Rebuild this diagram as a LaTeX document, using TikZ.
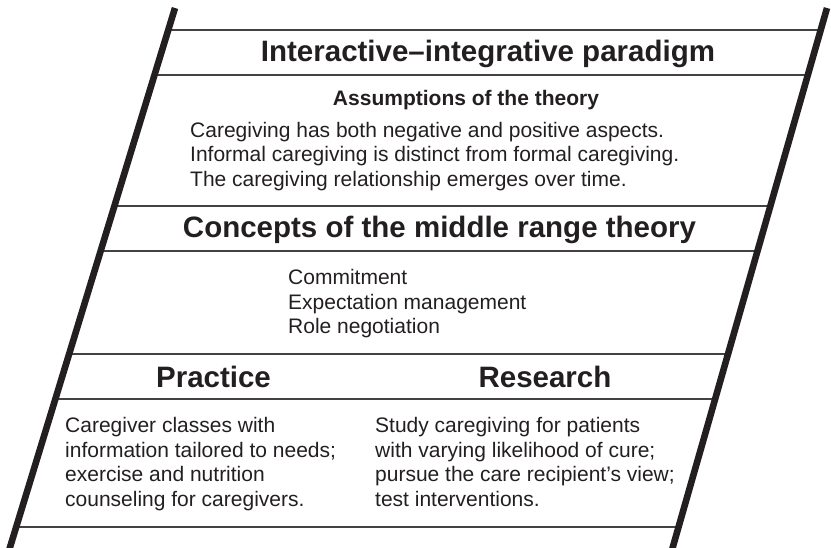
\documentclass[tikz,border=0pt]{standalone}
\usepackage{fontspec}
\setmainfont{Liberation Sans}
\definecolor{ink}{HTML}{231F20}
\begin{document}
\begin{tikzpicture}[x=1pt,y=-1pt,
  frame/.style={line width=6.6pt, draw=ink, line cap=butt},
  band/.style={line width=1.7pt, draw=ink!85},
  head/.style={font=\fontsize{29.5}{34}\selectfont\bfseries, text=ink, inner sep=0pt, anchor=base},
  subhead/.style={font=\fontsize{21}{24}\selectfont\bfseries, text=ink, inner sep=0pt, anchor=base},
  body/.style={font=\fontsize{21}{24.5}\selectfont, text=ink, inner sep=0pt, anchor=base west}]
\useasboundingbox (0,0) rectangle (831,547);
\clip (0,0) rectangle (831,547);
% frame edges
\coordinate (L1) at (175,8);
\coordinate (L2) at (6.1,560);
\coordinate (R1) at (827,8);
\coordinate (R2) at (669.1,560);
% horizontal band lines
\foreach \yy in {30,75,206,251,354,399,527}{
  \draw[band] (intersection of L1--L2 and 0,\yy--100,\yy) -- (intersection of R1--R2 and 0,\yy--100,\yy);
}
\draw[frame] (L1) -- (L2);
\draw[frame] (R1) -- (R2);
% texts
\node[head] (paradigm) at (488,61) {Interactive–integrative paradigm};
\node[subhead] (assump) at (466,105) {Assumptions of the theory};
\node[body] (a1) at (190,137) {Caregiving has both negative and positive aspects.};
\node[body] (a2) at (190,161.5) {Informal caregiving is distinct from formal caregiving.};
\node[body] (a3) at (190,186) {The caregiving relationship emerges over time.};
\node[head] (concepts) at (439.5,237) {Concepts of the middle range theory};
\node[body] (c1) at (288,284.5) {Commitment};
\node[body] (c2) at (288,309) {Expectation management};
\node[body] (c3) at (288,333.5) {Role negotiation};
\node[head] (practice) at (213.5,387) {Practice};
\node[head] (research) at (545,387) {Research};
\node[body] (p1) at (65,432.5) {Caregiver classes with};
\node[body] (p2) at (65,457) {information tailored to needs;};
\node[body] (p3) at (65,481.5) {exercise and nutrition};
\node[body] (p4) at (65,506) {counseling for caregivers.};
\node[body] (r1) at (375,432.5) {Study caregiving for patients};
\node[body] (r2) at (375,457) {with varying likelihood of cure;};
\node[body] (r3) at (375,481.5) {pursue the care recipient’s view;};
\node[body] (r4) at (375,506) {test interventions.};
\end{tikzpicture}
\end{document}
